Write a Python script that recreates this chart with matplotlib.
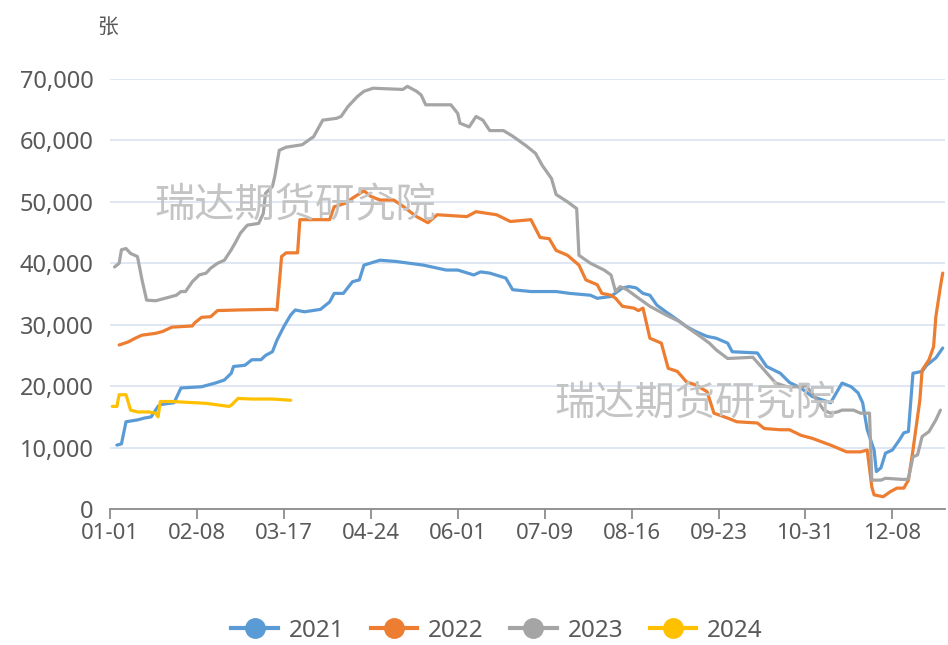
import matplotlib
matplotlib.use("Agg")
import matplotlib.pyplot as plt
from matplotlib.lines import Line2D
from matplotlib.ticker import FuncFormatter

plt.rcParams['font.family'] = ['Noto Sans', 'Noto Sans CJK SC', 'DejaVu Sans']

# ---- data (day index in a 366-day year, value in 张) ----
tick_days = [0, 38, 76, 114, 152, 190, 228, 266, 304, 342]
tick_labels = ['01-01', '02-08', '03-17', '04-24', '06-01', '07-09', '08-16', '09-23', '10-31', '12-08']

d2021 = [3, 5, 7, 12, 15, 18, 21, 22, 28, 31, 40, 46, 50, 53, 54, 59, 62, 66, 68, 71, 73, 76, 79, 81, 85, 92,
         96, 98, 102, 106, 109, 111, 118, 125, 137, 147, 152, 159, 162, 166, 173, 176, 184, 195, 201, 210, 213,
         219, 224, 227, 230, 233, 236, 239, 243, 248, 252, 256, 261, 265, 270, 272, 283, 285, 287, 293, 297,
         302, 307, 315, 320, 324, 327, 329, 331, 334, 335, 337, 339, 342, 345, 347, 349, 351, 355, 357, 361, 364]
v2021 = [10400, 10600, 14200, 14500, 14800, 15000, 16700, 17000, 17300, 19700, 19900, 20500, 21000, 22100, 23200,
         23400, 24300, 24300, 25000, 25600, 27500, 29700, 31600, 32400, 32100, 32500, 33700, 35100, 35100, 37000,
         37300, 39700, 40500, 40300, 39700, 38900, 38900, 38100, 38600, 38400, 37600, 35700, 35400, 35400, 35100,
         34800, 34300, 34600, 36000, 36200, 36000, 35100, 34800, 33200, 32100, 30800, 29700, 28900, 28100, 27800,
         27000, 25600, 25400, 24300, 23200, 22100, 20600, 19700, 18300, 17300, 20500, 19900, 18900, 17300, 12900,
         9600, 6100, 6700, 9100, 9600, 11200, 12400, 12600, 22100, 22400, 23400, 24600, 26200]

d2022 = [4, 8, 11, 14, 20, 23, 27, 36, 37, 40, 44, 47, 56, 71, 73, 75, 77, 82, 83, 96, 98, 103, 106, 111, 114,
         118, 124, 128, 134, 139, 143, 156, 160, 169, 175, 184, 188, 192, 195, 200, 205, 208, 213, 215, 219, 221,
         224, 229, 231, 233, 236, 241, 244, 248, 252, 256, 261, 264, 270, 274, 283, 286, 293, 297, 302, 307, 315,
         322, 328, 331, 333, 334, 338, 341, 344, 347, 349, 351, 354, 355, 358, 360, 361, 363, 364]
v2022 = [26700, 27200, 27800, 28300, 28600, 28900, 29600, 29800, 30300, 31200, 31300, 32300, 32400, 32500, 32400,
         41100, 41700, 41700, 47100, 47100, 49200, 49800, 50600, 51800, 50900, 50300, 50300, 49300, 47600, 46600,
         47900, 47600, 48400, 47900, 46800, 47100, 44200, 44000, 42100, 41300, 39700, 37300, 36500, 35100, 34800,
         34300, 33000, 32700, 32300, 32700, 27800, 27000, 22900, 22400, 20700, 20200, 19100, 15600, 14800, 14200,
         14000, 13100, 12900, 12900, 12000, 11500, 10400, 9300, 9300, 9600, 3600, 2300, 2000, 2800, 3400, 3400,
         4700, 9600, 17700, 22600, 24300, 26400, 31300, 36200, 38400]

d2023 = [2, 4, 5, 7, 9, 12, 14, 16, 20, 27, 29, 31, 33, 36, 39, 42, 44, 47, 50, 53, 55, 57, 60, 65, 67, 68, 71,
         72, 74, 77, 84, 87, 89, 93, 99, 101, 104, 108, 111, 115, 128, 130, 134, 136, 138, 149, 152, 153, 157, 160,
         163, 166, 172, 176, 182, 186, 189, 193, 195, 200, 204, 205, 210, 216, 219, 221, 223, 226, 230, 236, 243,
         249, 253, 258, 262, 265, 270, 281, 286, 291, 296, 303, 304, 307, 312, 315, 318, 320, 325, 328, 332, 333,
         337, 339, 347, 349, 351, 353, 355, 358, 361, 363]
v2023 = [39400, 40000, 42200, 42400, 41600, 41100, 37300, 34000, 33900, 34600, 34800, 35400, 35400, 37000, 38100,
         38400, 39200, 40000, 40500, 42200, 43500, 44900, 46200, 46500, 48100, 51400, 52500, 54100, 58400, 58900,
         59300, 60100, 60600, 63300, 63600, 63900, 65500, 67100, 68000, 68500, 68300, 68800, 68000, 67400, 65800,
         65800, 64400, 62800, 62200, 63900, 63300, 61600, 61600, 60700, 59100, 57900, 55900, 53800, 51200, 50000,
         48900, 41300, 40000, 38900, 38100, 35400, 36200, 35700, 34600, 33000, 31600, 30500, 29400, 28100, 27000,
         25900, 24500, 24700, 22600, 20500, 19900, 19900, 20200, 18800, 16100, 15600, 15800, 16100, 16100, 15600,
         15600, 4700, 4700, 5000, 4800, 4900, 8500, 8800, 11800, 12600, 14500, 16100]

d2024 = [1, 3, 4, 7, 9, 12, 17, 20, 21, 22, 27, 42, 52, 53, 56, 62, 71, 79]
v2024 = [16700, 16700, 18600, 18600, 16100, 15800, 15800, 15600, 15000, 17500, 17500, 17200, 16700, 16900, 18000,
         17900, 17900, 17700]

series = [('2021', d2021, v2021, '#5B9BD5'),
          ('2022', d2022, v2022, '#ED7D31'),
          ('2023', d2023, v2023, '#A5A5A5'),
          ('2024', d2024, v2024, '#FFC000')]

TXT = '#595959'
fig = plt.figure(figsize=(9.48, 6.45), dpi=100)
ax = fig.add_axes([110 / 948, 1 - 509 / 645, (945 - 110) / 948, (509 - 79) / 645])

for name, d, v, c in series:
    ax.plot(d, v, color=c, lw=2.3, solid_joinstyle='round', solid_capstyle='round', zorder=3, clip_on=False)

ax.set_xlim(0, 365)
ax.set_ylim(0, 70000)
ax.set_yticks(range(0, 70001, 10000))
ax.yaxis.set_major_formatter(FuncFormatter(lambda x, p: f'{int(x):,}'))
ax.set_xticks(tick_days)
ax.set_xticklabels(tick_labels)
ax.grid(axis='y', color='#D9E1F2', lw=1.2, zorder=0)
for s in ['top', 'right', 'left']:
    ax.spines[s].set_visible(False)
ax.spines['bottom'].set_color('#8C8C8C')
ax.spines['bottom'].set_linewidth(1.3)
ax.tick_params(axis='y', length=0, pad=12, labelsize=17, labelcolor=TXT)
ax.tick_params(axis='x', length=7, width=1.3, color='#8C8C8C', pad=3, labelsize=16, labelcolor=TXT)

fig.text(108 / 948, 1 - 28 / 645, '张', fontsize=15, color=TXT, ha='center', va='center')

wm = '瑞达期货研究院'
fig.text(295 / 948, 1 - 207 / 645, wm, fontsize=29, color='#C4C4C4', ha='center', va='center', zorder=1)
fig.text(695 / 948, 1 - 405 / 645, wm, fontsize=29, color='#C4C4C4', ha='center', va='center', zorder=1)

handles = [Line2D([0], [0], color=c, lw=3, marker='o', markersize=14, markerfacecolor=c, markeredgecolor=c)
           for _, _, _, c in series]
leg = fig.legend(handles, [s[0] for s in series], loc='center', bbox_to_anchor=(497 / 948, 1 - 631 / 645), ncol=4,
                 frameon=False, fontsize=17.5, handlelength=1.9, handletextpad=0.45, columnspacing=1.1,
                 borderaxespad=0)
for t in leg.get_texts():
    t.set_color(TXT)

fig.savefig('out.png', dpi=100)
